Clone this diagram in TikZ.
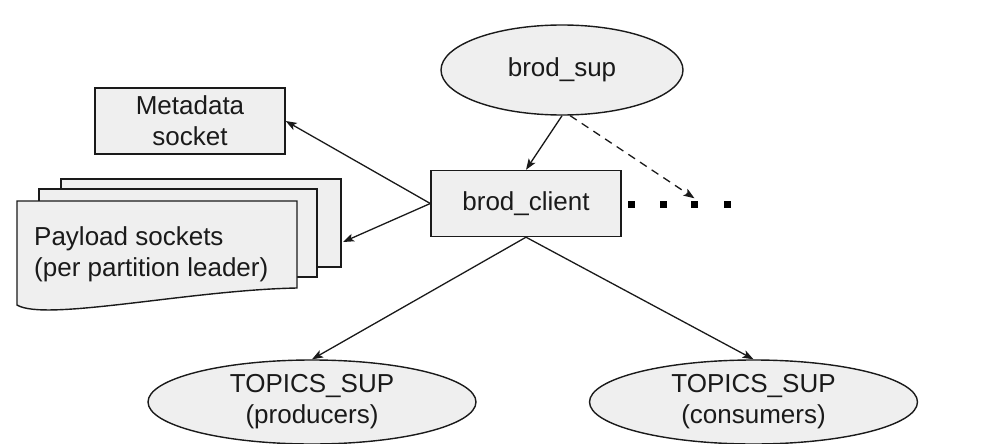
\documentclass[tikz,border=0pt]{standalone}
\usepackage{fontspec}
\setmainfont{Liberation Sans}
\usetikzlibrary{shapes.geometric,arrows.meta}
\definecolor{boxfill}{HTML}{EFEFEF}
\definecolor{ink}{HTML}{1A1A1A}
\begin{document}
\begin{tikzpicture}[x=1pt,y=-1pt,
  every node/.style={font=\fontsize{26}{31}\selectfont, text=ink},
  boxnode/.style={draw=ink, line width=1.4pt, fill=boxfill, rectangle, inner sep=0pt, align=center},
  ovalnode/.style={draw=ink, line width=1.4pt, fill=boxfill, ellipse, inner sep=-3pt, align=center},
  conn/.style={draw=ink, line width=1.3pt, -{Stealth[length=11pt,width=8pt,inset=2.5pt]}},
  dotsq/.style={fill=black, rectangle, minimum size=7pt, inner sep=0pt}]
\useasboundingbox (0,0) rectangle (994,444);
\fill[white] (0,0) rectangle (994,444);

% top
\node[ovalnode, minimum width=242pt, minimum height=90pt] (bs) at (562,70) {brod\_sup};
\node[boxnode, minimum width=190pt, minimum height=66pt] (bc) at (526,203.5) {brod\_client};
\node[boxnode, minimum width=190pt, minimum height=66pt] (meta) at (190,121) {Metadata\\socket};

% payload sockets (stacked documents)
\node[boxnode, minimum width=280pt, minimum height=88pt] (pb) at (201,223) {};
\node[boxnode, minimum width=278pt, minimum height=88pt] (pm) at (178,233) {};
\draw[draw=ink, line width=1.4pt, fill=boxfill] (17,201) -- (297,201) -- (297,288)
  .. controls (190,290) and (45,322) .. (17,305) -- cycle;
\node[anchor=west, align=left, inner sep=0pt] (pay) at (34,254) {Payload sockets\\(per partition leader)};
\coordinate (payin) at (343,242);

% dots
\node[dotsq] (d1) at (631,204) {};
\node[dotsq] (d2) at (663,204) {};
\node[dotsq] (d3) at (694.5,204) {};
\node[dotsq] (d4) at (727,204) {};

% bottom
\node[ovalnode, minimum width=328pt, minimum height=84pt] (prod) at (312,402) {TOPICS\_SUP\\(producers)};
\node[ovalnode, minimum width=328pt, minimum height=84pt] (cons) at (753.5,402) {TOPICS\_SUP\\(consumers)};

% connectors
\draw[conn] (bs.south) -- (bc.north);
\draw[conn, dash pattern=on 8pt off 6pt] (bs.-80) -- ([yshift=2pt]d3.north);
\draw[conn] (bc.west) -- (meta.east);
\draw[conn] (bc.west) -- (payin);
\draw[conn] (bc.south) -- (prod.north);
\draw[conn] (bc.south) -- (cons.north);
\end{tikzpicture}
\end{document}
